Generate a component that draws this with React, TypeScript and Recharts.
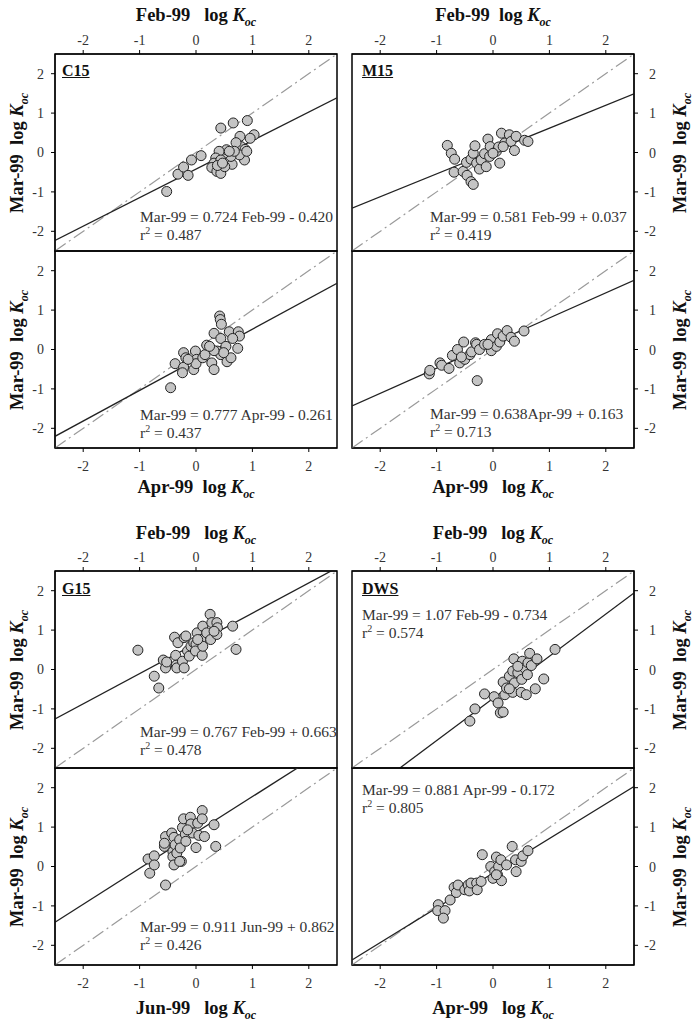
import React from "react";
import {
  ScatterChart,
  Scatter,
  XAxis,
  YAxis,
  ReferenceLine,
  ReferenceArea,
} from "recharts";

type Pt = [number, number];

const ticks = [-2, -1, 0, 1, 2];

// C15 : Mar-99 vs Feb-99 / Apr-99
const c15Feb: Pt[] = [
  [-0.52, -0.99], [-0.32, -0.55], [-0.22, -0.37], [-0.14, -0.58], [-0.08, -0.19],
  [0.09, -0.08], [0.44, 0.62], [0.66, 0.75], [0.91, 0.81], [1.03, 0.45],
  [0.96, 0.36], [0.78, 0.41], [0.8, 0.15], [0.71, 0.25], [0.87, 0.08],
  [0.86, -0.19], [0.77, -0.06], [0.64, -0.3], [0.62, -0.1], [0.49, -0.03],
  [0.54, 0.07], [0.41, 0.03], [0.35, -0.14], [0.32, -0.27], [0.28, -0.38],
  [0.37, -0.48], [0.44, -0.53], [0.51, -0.36], [0.44, -0.19], [0.38, -0.33],
  [0.68, 0.03], [0.9, 0.03], [0.59, 0.03], [0.47, -0.27],
];
const c15Apr: Pt[] = [
  [-0.45, -0.97], [-0.37, -0.36], [-0.22, -0.08], [-0.22, -0.45], [-0.24, -0.59],
  [-0.18, -0.21], [-0.04, -0.51], [-0.01, -0.04], [0.01, -0.25], [0.0, -0.36],
  [0.12, -0.21], [0.16, -0.13], [0.19, 0.11], [0.28, -0.34], [0.32, -0.51],
  [0.32, 0.41], [0.38, -0.04], [0.42, 0.85], [0.43, 0.76], [0.45, 0.64],
  [0.44, 0.28], [0.44, -0.13], [0.53, 0.08], [0.55, -0.31], [0.59, 0.45],
  [0.62, -0.21], [0.74, 0.03], [0.75, 0.45], [0.77, 0.34], [0.65, 0.28],
  [0.49, -0.08], [0.32, -0.03], [0.24, 0.08], [-0.14, -0.25],
];

// M15
const m15Feb: Pt[] = [
  [-0.81, 0.18], [-0.74, -0.02], [-0.68, -0.17], [-0.69, -0.5], [-0.53, -0.48],
  [-0.46, -0.58], [-0.39, -0.74], [-0.35, -0.81], [-0.47, -0.25], [-0.39, -0.17],
  [-0.35, -0.02], [-0.32, 0.17], [-0.29, -0.27], [-0.24, -0.42], [-0.21, -0.19],
  [-0.12, -0.36], [-0.15, -0.03], [-0.09, 0.34], [-0.06, -0.1], [-0.05, 0.15],
  [0.06, 0.03], [0.1, 0.14], [0.15, 0.49], [0.12, -0.27], [0.21, 0.24],
  [0.29, 0.45], [0.32, 0.28], [0.38, 0.05], [0.41, 0.41], [0.56, 0.31],
  [0.62, 0.28], [0.0, -0.02], [0.18, 0.15],
];
const m15Apr: Pt[] = [
  [-1.13, -0.62], [-1.12, -0.53], [-0.94, -0.34], [-0.91, -0.4], [-0.78, -0.48],
  [-0.72, -0.15], [-0.63, 0.0], [-0.59, -0.34], [-0.52, 0.19], [-0.5, -0.25],
  [-0.41, -0.13], [-0.38, -0.06], [-0.31, 0.17], [-0.28, -0.79], [-0.29, 0.13],
  [-0.24, 0.0], [-0.15, 0.13], [-0.03, -0.03], [-0.03, 0.25], [0.06, 0.08],
  [0.08, 0.4], [0.12, 0.19], [0.18, 0.34], [0.25, 0.48], [0.32, 0.31],
  [0.38, 0.21], [0.55, 0.47], [-0.09, 0.13], [-0.56, -0.19],
];

// G15
const g15Feb: Pt[] = [
  [-1.03, 0.49], [-0.74, -0.17], [-0.66, -0.47], [-0.58, 0.24], [-0.54, 0.04],
  [-0.52, 0.19], [-0.38, 0.82], [-0.36, 0.36], [-0.35, 0.11], [-0.34, 0.04],
  [-0.32, 0.68], [-0.24, 0.21], [-0.21, 0.04], [-0.21, 0.81], [-0.18, 0.85],
  [-0.15, 0.47], [-0.12, 0.34], [-0.09, 0.59], [-0.04, 0.68], [0.0, 0.64],
  [-0.01, 0.47], [0.02, 0.93], [0.09, 0.76], [0.11, 0.36], [0.12, 0.59],
  [0.12, 1.1], [0.19, 0.93], [0.25, 1.4], [0.26, 0.76], [0.28, 1.19],
  [0.37, 1.19], [0.38, 1.06], [0.37, 0.89], [0.65, 1.1], [0.71, 0.51],
  [0.03, 0.76], [0.32, 0.97],
];
const g15Jun: Pt[] = [
  [-0.85, 0.19], [-0.82, -0.17], [-0.74, 0.27], [-0.74, 0.04], [-0.54, -0.47],
  [-0.56, 0.51], [-0.54, 0.76], [-0.56, 0.59], [-0.43, 0.85], [-0.39, 0.74],
  [-0.41, 0.38], [-0.41, 0.25], [-0.39, 0.04], [-0.37, 0.55], [-0.34, 0.34],
  [-0.29, 0.68], [-0.28, 0.47], [-0.26, 0.13], [-0.24, 0.99], [-0.22, 1.21],
  [-0.19, 0.82], [-0.18, 0.64], [-0.1, 1.25], [-0.09, 1.08], [-0.06, 0.85],
  [0.0, 0.48], [0.03, 1.1], [0.05, 0.79], [0.11, 1.42], [0.11, 1.21],
  [0.15, 0.76], [0.32, 1.06], [0.35, 0.51], [-0.29, 0.13], [-0.15, 0.93],
];

// DWS
const dwsFeb: Pt[] = [
  [-0.41, -1.31], [-0.32, -1.0], [-0.15, -0.62], [0.02, -0.69], [0.09, -0.85],
  [0.13, -1.1], [0.18, -1.08], [0.18, -0.32], [0.21, -0.64], [0.24, -0.47],
  [0.29, -0.17], [0.35, -0.58], [0.38, -0.34], [0.37, 0.27], [0.35, -0.04],
  [0.44, -0.08], [0.5, -0.58], [0.51, -0.25], [0.52, 0.21], [0.56, 0.04],
  [0.59, -0.64], [0.61, -0.13], [0.62, 0.17], [0.65, 0.41], [0.68, 0.1],
  [0.75, -0.49], [0.78, 0.27], [0.9, -0.24], [1.1, 0.51], [0.44, 0.08],
  [0.29, -0.49],
];
const dwsApr: Pt[] = [
  [-0.97, -0.97], [-0.98, -1.12], [-0.85, -1.12], [-0.88, -1.31], [-0.76, -0.85],
  [-0.69, -0.53], [-0.65, -0.66], [-0.62, -0.47], [-0.5, -0.59], [-0.44, -0.47],
  [-0.42, -0.62], [-0.39, -0.42], [-0.29, -0.42], [-0.28, -0.59], [-0.21, -0.38],
  [-0.19, 0.3], [-0.04, 0.0], [0.0, -0.3], [0.03, -0.13], [0.06, 0.24],
  [0.08, -0.21], [0.1, 0.0], [0.14, 0.17], [0.15, -0.36], [0.24, 0.04],
  [0.34, 0.51], [0.4, 0.17], [0.41, -0.13], [0.5, 0.13], [0.53, 0.27],
  [0.62, 0.4], [0.06, -0.21],
];

// regression [slope, intercept, r2]
const c15FebFit = [0.724, -0.42, 0.487];
const c15AprFit = [0.777, -0.261, 0.437];
const m15FebFit = [0.581, 0.037, 0.419];
const m15AprFit = [0.638, 0.163, 0.713];
const g15FebFit = [0.767, 0.663, 0.478];
const g15JunFit = [0.911, 0.862, 0.426];
const dwsFebFit = [1.07, -0.734, 0.574];
const dwsAprFit = [0.881, -0.172, 0.805];

const FONT = '"Liberation Serif", "Times New Roman", serif';
const PW = 282;
const PH = 197;
const YW = 40;
const XH = 28;
const M = 3;
const LO = -2.5;
const HI = 2.5;

const Dot = (props: any) => (
  <circle cx={props.cx} cy={props.cy} r={5} fill="#c4c4c4" stroke="#222" strokeWidth={1} />
);

// SigmaPlot puts right-hand tick labels flush right
const RightTick = (props: any) => {
  const { x, y, payload } = props;
  return (
    <text x={x + 16} y={y} dy={5} textAnchor="end" fill="#333" fontSize={14} fontFamily={FONT}>
      {payload.value}
    </text>
  );
};

const Panel = ({
  data,
  fit,
  side,
  axis,
  left,
  top,
}: {
  data: Pt[];
  fit: number[];
  side: "left" | "right";
  axis: "top" | "bottom";
  left: number;
  top: number;
}) => {
  const pts = data.map(([x, y]) => ({ x, y }));
  const [m, b] = fit;
  const divLeft = side === "left" ? left - YW - M : left - M;
  const divTop = axis === "top" ? top - XH - M : top - M;
  return (
    <div style={{ position: "absolute", left: divLeft, top: divTop }}>
      <ScatterChart
        width={PW + YW + 2 * M}
        height={PH + XH + 2 * M}
        margin={{ top: M, right: M, bottom: M, left: M }}
      >
        <XAxis
          type="number"
          dataKey="x"
          orientation={axis}
          domain={[LO, HI]}
          ticks={ticks}
          allowDataOverflow
          height={XH}
          tickSize={4}
          tickMargin={axis === "top" ? 5 : 9}
          stroke="#000"
          tick={{ fill: "#333", fontSize: 14, fontFamily: FONT }}
        />
        <YAxis
          type="number"
          dataKey="y"
          orientation={side}
          domain={[LO, HI]}
          ticks={ticks}
          allowDataOverflow
          width={YW}
          tickSize={4}
          tickMargin={side === "left" ? 7 : 2}
          stroke="#000"
          tick={side === "right" ? <RightTick /> : { fill: "#333", fontSize: 14, fontFamily: FONT }}
        />
        <ReferenceLine
          segment={[{ x: LO, y: LO }, { x: HI, y: HI }]}
          stroke="#9a9a9a"
          strokeWidth={1.2}
          strokeDasharray="13 4 2 4"
          ifOverflow="hidden"
        />
        <ReferenceLine
          segment={[{ x: LO, y: m * LO + b }, { x: HI, y: m * HI + b }]}
          stroke="#222"
          strokeWidth={1.3}
          ifOverflow="hidden"
        />
        <Scatter data={pts} shape={<Dot />} isAnimationActive={false} />
        <ReferenceArea x1={LO} x2={HI} y1={LO} y2={HI} fill="none" fillOpacity={0} stroke="#000" strokeWidth={1.5} />
      </ScatterChart>
    </div>
  );
};

const AxisTitle = ({ month, gap }: { month: string; gap: number }) => (
  <span>
    {month}
    {"\u00a0".repeat(gap)}log <i>K</i>
    <sub style={{ fontSize: 12, fontStyle: "italic", lineHeight: 0 }}>oc</sub>
  </span>
);

const titleStyle = {
  position: "absolute" as const,
  fontWeight: "bold" as const,
  fontSize: 18.5,
  lineHeight: "16px",
  whiteSpace: "nowrap" as const,
  color: "#111",
};

const HTitle = ({ month, cx, cy, gap = 3 }: { month: string; cx: number; cy: number; gap?: number }) => (
  <div style={{ ...titleStyle, left: cx, top: cy, transform: "translate(-50%, -50%)" }}>
    <AxisTitle month={month} gap={gap} />
  </div>
);

const VTitle = ({ cx, cy }: { cx: number; cy: number }) => (
  <div style={{ ...titleStyle, left: cx, top: cy, transform: "translate(-50%, -50%) rotate(-90deg)" }}>
    <AxisTitle month="Mar-99" gap={2} />
  </div>
);

const Equation = ({ text, r2, x, y }: { text: string; r2: number; x: number; y: number }) => (
  <div
    style={{
      position: "absolute",
      left: x,
      top: y,
      fontSize: 15.5,
      lineHeight: "18px",
      color: "#333",
      whiteSpace: "nowrap",
    }}
  >
    <div>{text}</div>
    <div>
      r<sup style={{ fontSize: 10, lineHeight: 0 }}>2</sup> = {r2.toFixed(3)}
    </div>
  </div>
);

const Tag = ({ name, x, y }: { name: string; x: number; y: number }) => (
  <div
    style={{
      position: "absolute",
      left: x,
      top: y,
      fontSize: 16,
      fontWeight: "bold",
      textDecoration: "underline",
      color: "#111",
    }}
  >
    {name}
  </div>
);

export default function App() {
  const L1 = 55;
  const L2 = 352;
  const T1 = 54;
  const T2 = 571;
  return (
    <div
      style={{
        position: "absolute",
        left: 0,
        top: 0,
        width: 693,
        height: 1024,
        background: "#fff",
        fontFamily: FONT,
      }}
    >
      <Panel data={c15Feb} fit={c15FebFit} side="left" axis="top" left={L1} top={T1} />
      <Panel data={c15Apr} fit={c15AprFit} side="left" axis="bottom" left={L1} top={T1 + PH} />
      <Panel data={m15Feb} fit={m15FebFit} side="right" axis="top" left={L2} top={T1} />
      <Panel data={m15Apr} fit={m15AprFit} side="right" axis="bottom" left={L2} top={T1 + PH} />
      <Panel data={g15Feb} fit={g15FebFit} side="left" axis="top" left={L1} top={T2} />
      <Panel data={g15Jun} fit={g15JunFit} side="left" axis="bottom" left={L1} top={T2 + PH} />
      <Panel data={dwsFeb} fit={dwsFebFit} side="right" axis="top" left={L2} top={T2} />
      <Panel data={dwsApr} fit={dwsAprFit} side="right" axis="bottom" left={L2} top={T2 + PH} />

      <HTitle month="Feb-99" cx={196} cy={15} />
      <HTitle month="Feb-99" cx={493} cy={15} gap={2} />
      <HTitle month="Apr-99" cx={196} cy={487} gap={2} />
      <HTitle month="Apr-99" cx={493} cy={487} />
      <HTitle month="Feb-99" cx={196} cy={533} />
      <HTitle month="Feb-99" cx={493} cy={533} />
      <HTitle month="Jun-99" cx={196} cy={1008} />
      <HTitle month="Apr-99" cx={493} cy={1008} />

      <VTitle cx={17} cy={153} />
      <VTitle cx={17} cy={350} />
      <VTitle cx={17} cy={670} />
      <VTitle cx={17} cy={867} />
      <VTitle cx={680} cy={153} />
      <VTitle cx={680} cy={350} />
      <VTitle cx={680} cy={670} />
      <VTitle cx={680} cy={867} />

      <Tag name="C15" x={62} y={62} />
      <Tag name="M15" x={362} y={62} />
      <Tag name="G15" x={62} y={580} />
      <Tag name="DWS" x={362} y={580} />

      <Equation text="Mar-99 = 0.724 Feb-99 - 0.420" r2={c15FebFit[2]} x={140} y={208} />
      <Equation text="Mar-99 = 0.777 Apr-99 - 0.261" r2={c15AprFit[2]} x={140} y={406} />
      <Equation text="Mar-99 = 0.581 Feb-99 + 0.037" r2={m15FebFit[2]} x={430} y={208} />
      <Equation text="Mar-99 = 0.638Apr-99 + 0.163" r2={m15AprFit[2]} x={430} y={405} />
      <Equation text="Mar-99 = 0.767 Feb-99 + 0.663" r2={g15FebFit[2]} x={140} y={723} />
      <Equation text="Mar-99 = 0.911 Jun-99 + 0.862" r2={g15JunFit[2]} x={140} y={918} />
      <Equation text="Mar-99 = 1.07 Feb-99 - 0.734" r2={dwsFebFit[2]} x={362} y={606} />
      <Equation text="Mar-99 = 0.881 Apr-99 - 0.172" r2={dwsAprFit[2]} x={362} y={781} />
    </div>
  );
}
